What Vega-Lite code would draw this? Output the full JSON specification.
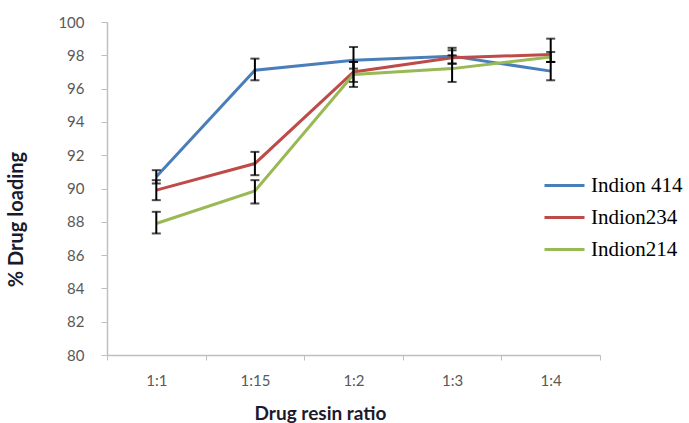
{
  "$schema": "https://vega.github.io/schema/vega-lite/v6.json",
  "width": 493,
  "height": 333,
  "autosize": {"type": "none"},
  "padding": {"left": 107, "top": 22, "right": 89, "bottom": 68},
  "background": "white",
  "config": {"view": {"stroke": null}, "axis": {"labelOverlap": false, "labelSeparation": -20}},
  "data": {
    "values": [
      {"ratio": "1:1", "series": "Indion 414", "value": 90.7, "lo": 90.3, "hi": 91.1},
      {"ratio": "1:1", "series": "Indion234", "value": 89.9, "lo": 89.3, "hi": 90.5},
      {"ratio": "1:1", "series": "Indion214", "value": 87.9, "lo": 87.3, "hi": 88.6},
      {"ratio": "1:15", "series": "Indion 414", "value": 97.1, "lo": 96.5, "hi": 97.8},
      {"ratio": "1:15", "series": "Indion234", "value": 91.5, "lo": 90.8, "hi": 92.2},
      {"ratio": "1:15", "series": "Indion214", "value": 89.85, "lo": 89.1, "hi": 90.5},
      {"ratio": "1:2", "series": "Indion 414", "value": 97.7, "lo": 97.2, "hi": 98.5},
      {"ratio": "1:2", "series": "Indion234", "value": 97.0, "lo": 96.4, "hi": 97.6},
      {"ratio": "1:2", "series": "Indion214", "value": 96.85, "lo": 96.1, "hi": 97.6},
      {"ratio": "1:3", "series": "Indion 414", "value": 97.95, "lo": 97.5, "hi": 98.45},
      {"ratio": "1:3", "series": "Indion234", "value": 97.85, "lo": 97.5, "hi": 98.3},
      {"ratio": "1:3", "series": "Indion214", "value": 97.2, "lo": 96.4, "hi": 98.0},
      {"ratio": "1:4", "series": "Indion 414", "value": 97.05, "lo": 96.5, "hi": 97.6},
      {"ratio": "1:4", "series": "Indion234", "value": 98.05, "lo": 97.6, "hi": 99.0},
      {"ratio": "1:4", "series": "Indion214", "value": 97.9, "lo": 97.6, "hi": 98.2}
    ]
  },
  "encoding": {
    "x": {
      "field": "ratio",
      "type": "nominal",
      "sort": ["1:1", "1:15", "1:2", "1:3", "1:4"],
      "scale": {"type": "band", "paddingInner": 0, "paddingOuter": 0},
      "axis": {
        "title": "Drug resin ratio",
        "tickBand": "extent",
        "labelAngle": 0,
        "labelFont": "Lato",
        "labelFontSize": 15,
        "labelColor": "#595959",
        "labelPadding": 13,
        "domainColor": "#bfbfbf",
        "domainWidth": 1.5,
        "tickColor": "#bfbfbf",
        "tickSize": 5,
        "titleFont": "Lato",
        "titleFontWeight": "bold",
        "titleFontSize": 19,
        "titleColor": "#1a1a2e",
        "titleX": 213,
        "titleY": 64,
        "titleBaseline": "alphabetic",
        "titleAnchor": "middle"
      }
    }
  },
  "layer": [
    {
      "mark": {"type": "line", "strokeWidth": 3},
      "encoding": {
        "y": {
          "field": "value",
          "type": "quantitative",
          "scale": {"domain": [80, 100]},
          "axis": {
            "title": "% Drug loading",
            "values": [80, 82, 84, 86, 88, 90, 92, 94, 96, 98, 100],
            "tickCount": 11,
            "labelOverlap": false,
            "labelSeparation": -20,
            "grid": false,
            "labelFont": "Lato",
            "labelFontSize": 15,
            "labelColor": "#595959",
            "labelPadding": 17,
            "domainColor": "#bfbfbf",
            "domainWidth": 1.5,
            "tickColor": "#bfbfbf",
            "tickSize": 6,
            "titleFont": "Lato",
            "titleFontWeight": "bold",
            "titleFontSize": 20,
            "titleColor": "#1a1a2e",
            "titleX": -81,
            "titleY": 197,
            "titleAnchor": "middle"
          }
        },
        "color": {
          "field": "series",
          "type": "nominal",
          "scale": {
            "domain": ["Indion 414", "Indion234", "Indion214"],
            "range": ["#4a7ebb", "#be4b48", "#98b954"]
          },
          "legend": {
            "title": null,
            "orient": "none",
            "legendX": 436,
            "legendY": 142,
            "symbolType": "stroke",
            "symbolSize": 1600,
            "symbolStrokeWidth": 3,
            "labelFont": "Liberation Serif",
            "labelFontSize": 21,
            "labelColor": "#000000",
            "labelOffset": 5,
            "rowPadding": -1
          }
        }
      }
    },
    {
      "mark": {
        "type": "errorbar",
        "ticks": {"size": 9, "thickness": 2, "color": "black"},
        "rule": {"strokeWidth": 2, "color": "black"}
      },
      "encoding": {
        "y": {"field": "lo", "type": "quantitative", "title": "% Drug loading", "axis": {"labelOverlap": false, "values": [80, 82, 84, 86, 88, 90, 92, 94, 96, 98, 100]}},
        "y2": {"field": "hi"}
      }
    }
  ]
}
